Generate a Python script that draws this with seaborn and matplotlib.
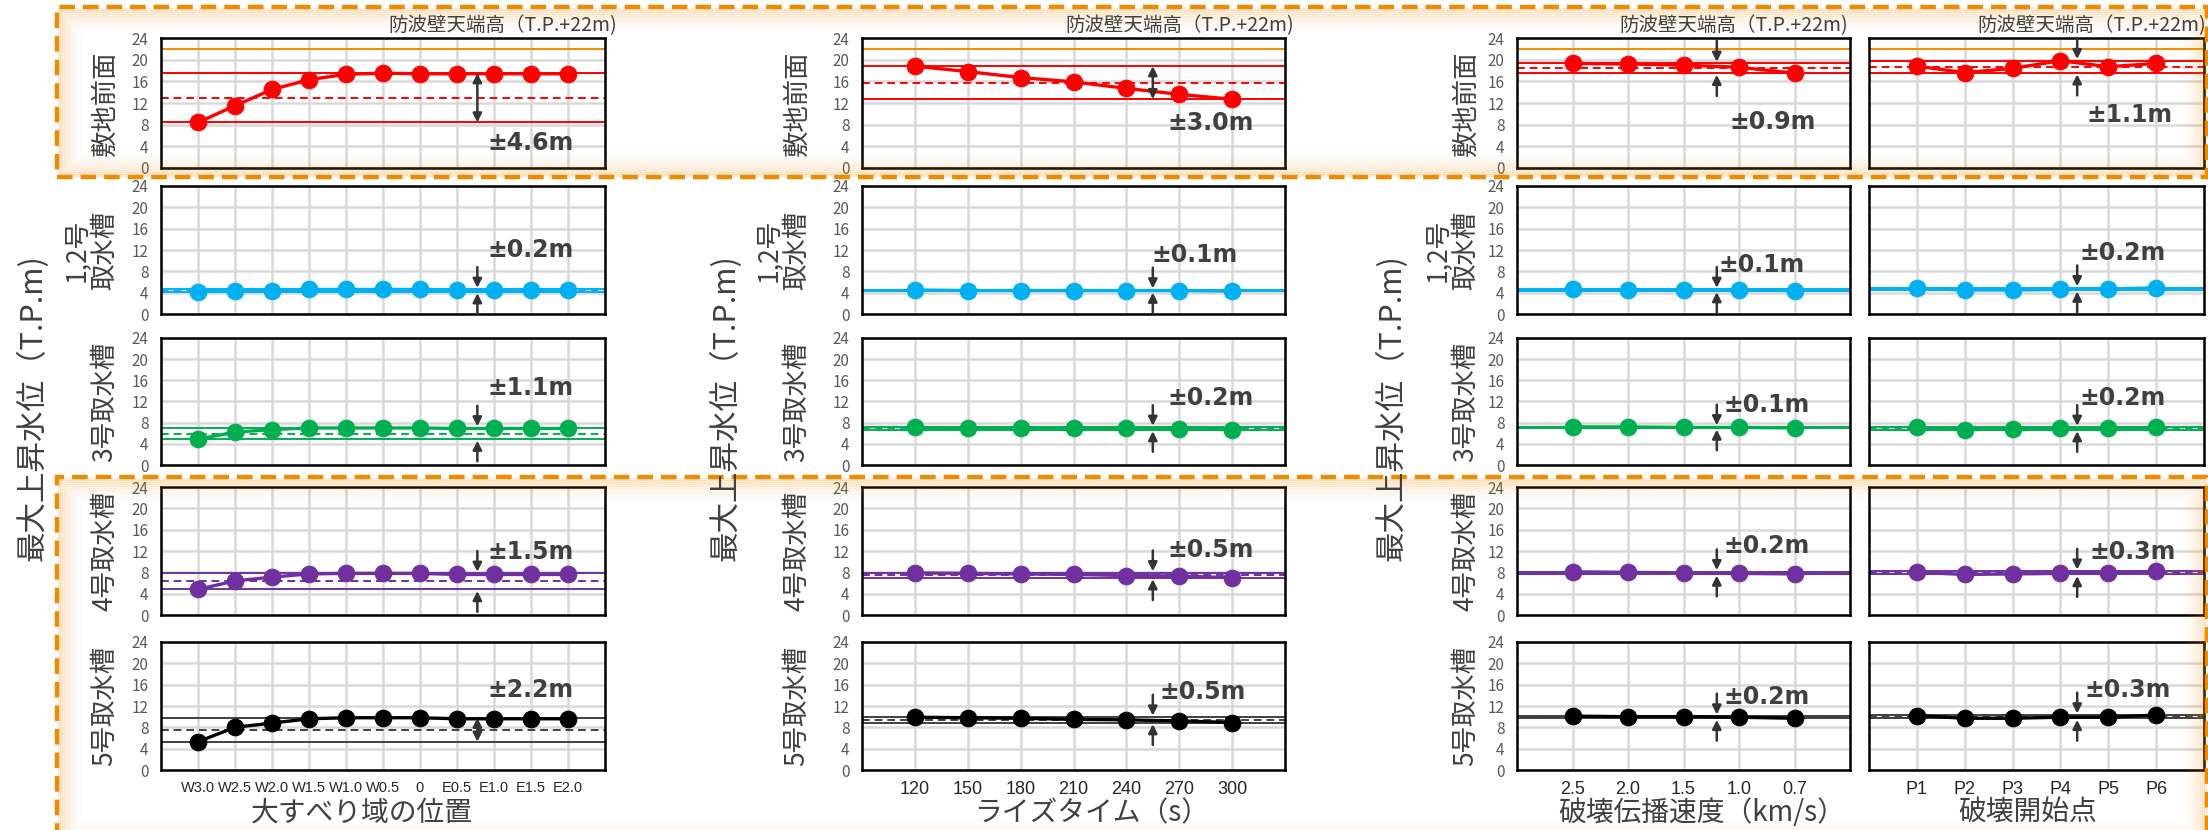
import matplotlib
matplotlib.use('Agg')
import matplotlib.pyplot as plt
import seaborn as sns
import pandas as pd
from matplotlib.patches import Rectangle

# categories (x axis of each column)
pos_labels = ['W3.0', 'W2.5', 'W2.0', 'W1.5', 'W1.0', 'W0.5', '0', 'E0.5', 'E1.0', 'E1.5', 'E2.0']
rise_labels = ['120', '150', '180', '210', '240', '270', '300']
vel_labels = ['2.5', '2.0', '1.5', '1.0', '0.7']
start_labels = ['P1', 'P2', 'P3', 'P4', 'P5', 'P6']

col_xlabels = ['大すべり域の位置', 'ライズタイム（s）', '破壊伝播速度（km/s）', '破壊開始点']
row_labels = ['敷地前面', '1,2号\n取水槽', '3号取水槽', '4号取水槽', '5号取水槽']
row_colors = ['#FF0000', '#00B0F0', '#00B050', '#7030A0', '#000000']
ylabel = '最大上昇水位（T.P.m)'
wall_label = '防波壁天端高（T.P.+22m)'
wall_height = 22

# max water level (T.P.m) - 大すべり域の位置
pos_site = [8.4, 11.5, 14.5, 16.3, 17.3, 17.5, 17.4, 17.4, 17.4, 17.4, 17.4]
pos_u12 = [4.2, 4.3, 4.4, 4.6, 4.6, 4.6, 4.6, 4.5, 4.5, 4.5, 4.5]
pos_u3 = [4.9, 6.2, 6.7, 7.0, 7.0, 7.0, 7.0, 6.9, 6.9, 6.9, 6.9]
pos_u4 = [4.8, 6.4, 7.1, 7.7, 7.8, 7.8, 7.8, 7.6, 7.6, 7.6, 7.6]
pos_u5 = [5.3, 8.0, 8.8, 9.6, 9.8, 9.8, 9.8, 9.6, 9.6, 9.6, 9.6]
# ライズタイム
rise_site = [18.8, 17.8, 16.7, 15.9, 14.7, 13.6, 12.7]
rise_u12 = [4.5, 4.4, 4.4, 4.4, 4.4, 4.4, 4.3]
rise_u3 = [7.1, 7.0, 7.0, 6.9, 6.9, 6.8, 6.7]
rise_u4 = [7.9, 7.8, 7.7, 7.6, 7.4, 7.3, 7.0]
rise_u5 = [9.9, 9.8, 9.7, 9.5, 9.4, 9.2, 8.9]
# 破壊伝播速度
vel_site = [19.3, 19.2, 19.0, 18.6, 17.5]
vel_u12 = [4.6, 4.5, 4.5, 4.5, 4.4]
vel_u3 = [7.2, 7.2, 7.1, 7.1, 7.0]
vel_u4 = [8.1, 8.0, 7.9, 7.8, 7.7]
vel_u5 = [10.1, 10.0, 10.0, 9.9, 9.7]
# 破壊開始点
start_site = [18.8, 17.6, 18.4, 19.8, 18.7, 19.3]
start_u12 = [4.8, 4.5, 4.5, 4.6, 4.7, 4.9]
start_u3 = [7.1, 6.7, 6.8, 6.9, 7.0, 7.1]
start_u4 = [8.0, 7.6, 7.7, 7.8, 7.9, 8.2]
start_u5 = [10.2, 9.7, 9.7, 9.9, 9.9, 10.3]

# variation labels
pos_pm = ['±4.6m', '±0.2m', '±1.1m', '±1.5m', '±2.2m']
rise_pm = ['±3.0m', '±0.1m', '±0.2m', '±0.5m', '±0.5m']
vel_pm = ['±0.9m', '±0.1m', '±0.1m', '±0.2m', '±0.2m']
start_pm = ['±1.1m', '±0.2m', '±0.2m', '±0.3m', '±0.3m']

columns = [
    (pos_labels, [pos_site, pos_u12, pos_u3, pos_u4, pos_u5], pos_pm),
    (rise_labels, [rise_site, rise_u12, rise_u3, rise_u4, rise_u5], rise_pm),
    (vel_labels, [vel_site, vel_u12, vel_u3, vel_u4, vel_u5], vel_pm),
    (start_labels, [start_site, start_u12, start_u3, start_u4, start_u5], start_pm),
]

# layout in pixels
W, H = 2208, 830
col_px = [(161, 605), (862, 1285), (1517, 1850), (1869, 2204)]
row_px = [(38, 168), (186, 314), (338, 465), (487, 615), (642, 770)]
arrow_x = [7.55, 4.5, 2.6, 3.35]
text_pos = [
    [(9.0, 4.6), (9.0, 12.0), (9.0, 14.5), (9.0, 11.8), (9.0, 15.0)],
    [(5.6, 8.3), (5.3, 11.1), (5.6, 12.7), (5.6, 12.2), (5.45, 14.6)],
    [(3.6, 8.5), (3.4, 9.2), (3.5, 11.3), (3.5, 12.9), (3.5, 13.7)],
    [(4.45, 9.8), (4.3, 11.4), (4.3, 12.7), (4.5, 11.8), (4.4, 15.0)],
]
title_right = [617, 1294, 1848, 2206]
xtick_size = [10.5, 13, 13, 13]
rowlab_x = [105, 797, 1466]
ylab_x = [32, 725, 1391]
xlab_x = [362, 1092, 1702, 2028]

sns.set_style('white')
plt.rcParams['font.family'] = ['Noto Sans CJK JP', 'DejaVu Sans']

fig = plt.figure(figsize=(W / 100, H / 100), dpi=100)
fig.patch.set_facecolor('white')


def fx(x):
    return x / W


def fy(y):
    return 1 - y / H


# orange dashed boxes with a soft inner glow
orange = '#F08A00'
for (x0, y0, x1, y1) in [(57, 7, 2207, 177), (57, 477, 2207, 845)]:
    for k in range(12):
        inset = 2 + k * 2
        fig.patches.append(Rectangle((fx(x0 + inset), fy(y1 - inset)),
                                     fx(x1 - x0 - 2 * inset), (y1 - y0 - 2 * inset) / H,
                                     transform=fig.transFigure, fill=False,
                                     edgecolor=orange, lw=2.2, alpha=0.16 * (1 - k / 12) ** 1.5,
                                     zorder=0))
    fig.patches.append(Rectangle((fx(x0), fy(y1)), fx(x1 - x0), (y1 - y0) / H,
                                 transform=fig.transFigure, fill=False, edgecolor=orange,
                                 lw=3.2, linestyle=(0, (3.5, 1.8)), zorder=1))

for c, (cats, series, pms) in enumerate(columns):
    xl, xr = col_px[c]
    idx = list(range(len(cats)))
    for r in range(5):
        yt, yb = row_px[r]
        ax = fig.add_axes([fx(xl), fy(yb), fx(xr - xl), (yb - yt) / H])
        color = row_colors[r]
        vals = series[r]
        df = pd.DataFrame({'x': idx, 'y': vals})
        vmax, vmin = max(vals), min(vals)
        mid = (vmax + vmin) / 2
        line_c = '#404040' if r == 4 else color
        ax.axhline(vmax, color=line_c, lw=1.4, zorder=2)
        ax.axhline(vmin, color=line_c, lw=1.4, zorder=2)
        ax.axhline(mid, color=line_c, lw=1.4, ls=(0, (4, 2.5)), zorder=2)
        if r == 0:
            ax.axhline(wall_height, color='#F39200', lw=1.5, zorder=2)
        sns.lineplot(data=df, x='x', y='y', ax=ax, color=color, lw=2.4, marker='o',
                     markersize=12, markeredgecolor=color, zorder=3)
        ax.set_xlim(-1, len(cats))
        ax.set_ylim(0, 24)
        ax.set_yticks(range(0, 25, 4))
        ax.set_xticks(idx)
        ax.grid(True, color='#D9D9D9', lw=1.8)
        ax.set_axisbelow(True)
        ax.set_xlabel('')
        ax.set_ylabel('')
        for s in ax.spines.values():
            s.set_color('black')
            s.set_linewidth(1.8)
        ax.tick_params(length=0, pad=9, labelsize=11, labelcolor='#595959')
        if r == 4:
            ax.set_xticklabels(cats, fontsize=xtick_size[c], color='#262626',
                               family=['Liberation Sans', 'DejaVu Sans'])
            ax.tick_params(axis='x', pad=8)
        else:
            ax.set_xticklabels([])
        if c == 3:
            ax.set_yticklabels([])

        # variation arrows
        ax_x = arrow_x[c]
        ak = dict(arrowstyle='-|>', color='#333333', lw=1.8, mutation_scale=13,
                  shrinkA=0, shrinkB=0)
        if vmax - vmin >= 4:
            ax.annotate('', xy=(ax_x, vmax), xytext=(ax_x, vmin),
                        arrowprops=dict(ak, arrowstyle='<|-|>'), annotation_clip=False, zorder=4)
        else:
            ax.annotate('', xy=(ax_x, vmax + 0.3), xytext=(ax_x, vmax + 4.2),
                        arrowprops=ak, annotation_clip=False, zorder=4)
            ax.annotate('', xy=(ax_x, vmin - 0.3), xytext=(ax_x, vmin - 4.2),
                        arrowprops=ak, annotation_clip=False, zorder=4)
        tx, ty = text_pos[c][r]
        ax.text(tx, ty, pms[r], ha='center', va='center', fontsize=17,
                fontweight='bold', family='DejaVu Sans', color='#404040', zorder=5)

        if r == 0:
            fig.text(fx(title_right[c]), fy(26), wall_label, ha='right', va='center',
                     fontsize=14, color='#404040')
        if c < 3:
            lx = rowlab_x[c] - (14 if '\n' in row_labels[r] else 0)
            fig.text(fx(lx), fy((yt + yb) / 2), row_labels[r], rotation=90,
                     ha='center', va='center', fontsize=19, color='#404040',
                     linespacing=1.0)
    fig.text(fx(xlab_x[c]), fy(813), col_xlabels[c], ha='center', va='center',
             fontsize=20, color='#404040')

for c in range(3):
    fig.text(fx(ylab_x[c]), fy(408), ylabel, rotation=90, ha='center', va='center',
             fontsize=22, color='#404040')

fig.savefig('out.png', dpi=100)
